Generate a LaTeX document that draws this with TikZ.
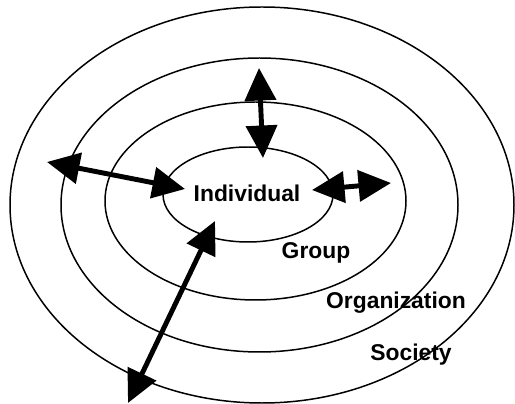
\documentclass[tikz,border=0pt]{standalone}
\usepackage{fontspec}
\setmainfont{Liberation Sans}
\usetikzlibrary{arrows.meta}

\begin{document}
\begin{tikzpicture}[
    ring/.style={line width=0.85pt},
    link/.style={line width=2.8pt,
        {Triangle[length=18.5pt,width=17.5pt]}-{Triangle[length=18.5pt,width=17.5pt]}},
    level/.style={font=\fontsize{13}{15}\selectfont\bfseries, inner sep=0pt}
]
\useasboundingbox (0,0) rectangle (10.3,8.08);

% the four rings, outermost first
\draw [ring] (5.24,3.98) ellipse [x radius=5.04, y radius=3.96];
\draw [ring] (5.19,3.98) ellipse [x radius=3.97, y radius=2.94];
\draw [ring] (5.11,4.06) ellipse [x radius=3.01, y radius=1.98];
\draw [ring] (4.96,4.19) ellipse [x radius=1.70, y radius=0.95];

\node [level] (individual) at (4.94,4.22) {Individual};
\node [level] (group) at (6.32,3.02) {Group};
\node [level] (organization) at (7.92,2.02) {Organization};
\node [level] (society) at (8.22,0.98) {Society};

% ends of the arrows
\coordinate (upA) at (5.18,6.72);
\coordinate (upB) at (5.26,4.92);
\coordinate (leftA) at (0.94,4.84);
\coordinate (leftB) at (3.70,4.30);
\coordinate (rightA) at (6.24,4.28);
\coordinate (rightB) at (7.82,4.42);
\coordinate (downA) at (4.30,3.66);
\coordinate (downB) at (2.56,0.02);

\draw [link] (upA) -- (upB);
\draw [link] (leftA) -- (leftB);
\draw [link] (rightA) -- (rightB);
\draw [link] (downA) -- (downB);
\end{tikzpicture}
\end{document}
